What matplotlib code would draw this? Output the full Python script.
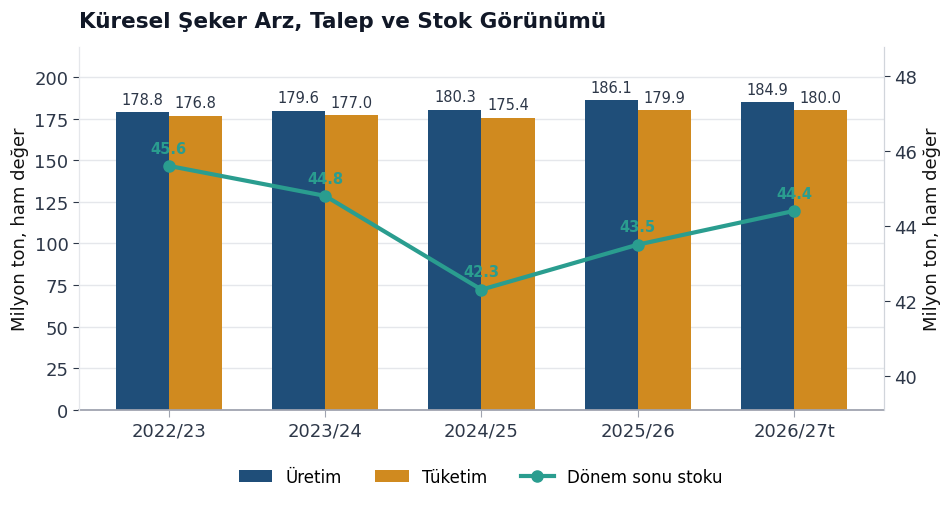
import matplotlib
matplotlib.use("Agg")
import matplotlib.pyplot as plt
import numpy as np

categories = ["2022/23", "2023/24", "2024/25", "2025/26", "2026/27t"]
uretim = [178.8, 179.6, 180.3, 186.1, 184.9]
tuketim = [176.8, 177.0, 175.4, 179.9, 180.0]
stok = [45.6, 44.8, 42.3, 43.5, 44.4]

c_blue = "#1f4e79"
c_orange = "#d08a1f"
c_teal = "#2a9d8f"
c_text = "#2d3748"

plt.rcParams['font.family'] = ['DejaVu Sans']

fig = plt.figure(figsize=(9.53, 5.06), dpi=100)
ax = fig.add_axes([79/953, 1-411/506, (884-79)/953, (411-48)/506])
x = np.arange(len(categories))
w = 0.34
b1 = ax.bar(x - w/2, uretim, w, color=c_blue, label="Üretim", zorder=2)
b2 = ax.bar(x + w/2, tuketim, w, color=c_orange, label="Tüketim", zorder=2)
ax.bar_label(b1, labels=[f"{v:.1f}" for v in uretim], padding=4, fontsize=10.5, color=c_text)
ax.bar_label(b2, labels=[f"{v:.1f}" for v in tuketim], padding=4, fontsize=10.5, color=c_text)

ax.set_ylim(0, 218)
ax.set_yticks(np.arange(0, 201, 25))
ax.set_xticks(x)
ax.set_xticklabels(categories)
ax.tick_params(axis='both', labelsize=13, colors=c_text)
ax.tick_params(axis='x', length=5, color="#a0a4b0")
ax.tick_params(axis='y', length=4, color=c_text)
ax.set_ylabel("Milyon ton, ham değer", fontsize=13, color="#111111")
ax.grid(axis='y', color="#e5e7eb", linewidth=1, zorder=0)
ax.set_axisbelow(True)
ax.spines["top"].set_visible(False)
ax.spines["left"].set_color("#e5e7eb")
ax.spines["right"].set_color("#d1d5db")
ax.spines["bottom"].set_color("#a0a4b0")
ax.spines["bottom"].set_linewidth(1.3)

ax2 = ax.twinx()
ln, = ax2.plot(x, stok, color=c_teal, lw=3, marker="o", markersize=8, label="Dönem sonu stoku", zorder=3)
for xi, v in zip(x, stok):
    ax2.annotate(f"{v:.1f}", (xi, v), xytext=(0, 9.5), textcoords="offset points",
                 ha="center", fontsize=10.5, fontweight="bold", color=c_teal)
ax2.set_ylim(39.09, 48.77)
ax2.set_yticks([40, 42, 44, 46, 48])
ax2.tick_params(axis='y', labelsize=13, colors=c_text, length=4)
ax2.set_ylabel("Milyon ton, ham değer", fontsize=13, color="#111111")
ax2.spines["top"].set_visible(False)
ax2.spines["right"].set_color("#d1d5db")
ax2.spines["left"].set_color("#e5e7eb")
ax2.spines["bottom"].set_visible(False)

fig.text(79/953, 1-22/506, "Küresel Şeker Arz, Talep ve Stok Görünümü", fontsize=15.5,
         fontweight="bold", color="#111827", ha="left", va="center")

handles = [b1, b2, ln]
fig.legend(handles, [h.get_label() for h in handles], loc="center", bbox_to_anchor=(481/953, 1-478/506),
           ncol=3, frameon=False, fontsize=12, handlelength=2.0, columnspacing=2.0)

fig.savefig("out.png", dpi=100)
